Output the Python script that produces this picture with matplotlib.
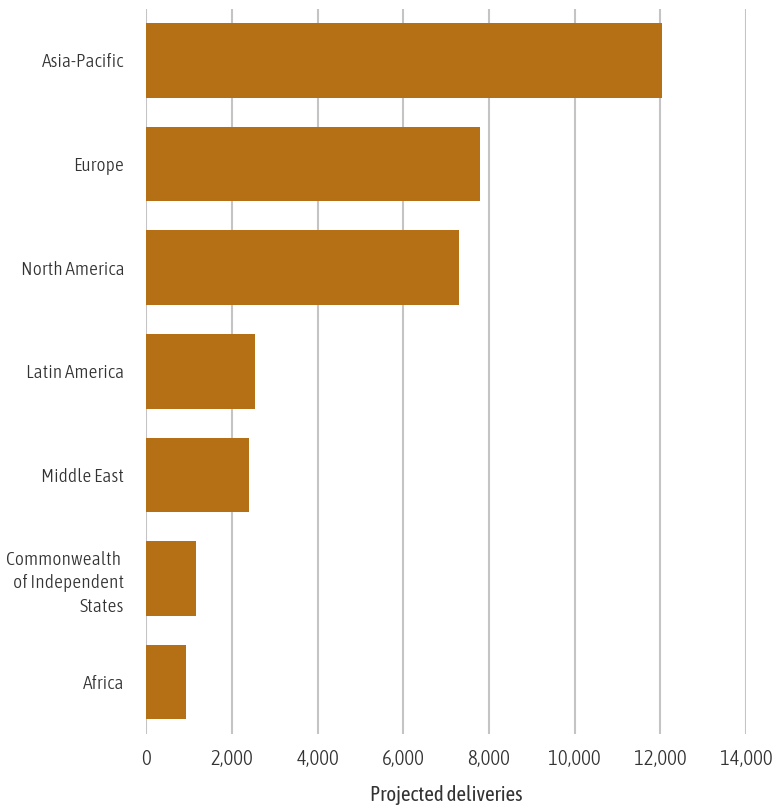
import matplotlib.pyplot as plt
from matplotlib import font_manager

regions = ['Asia-Pacific', 'Europe', 'North America', 'Latin America',
           'Middle East', 'Commonwealth \nof Independent\nStates', 'Africa']
deliveries = [12030, 7780, 7290, 2530, 2390, 1150, 920]
xticks = [0, 2000, 4000, 6000, 8000, 10000, 12000, 14000]

names = {f.name for f in font_manager.fontManager.ttflist}
fam = 'Asap Condensed' if 'Asap Condensed' in names else 'Lato'
plt.rcParams['font.family'] = [fam, 'DejaVu Sans']
plt.rcParams['font.weight'] = 300

fig = plt.figure(figsize=(7.77, 8.08), dpi=100)
ax = fig.add_axes([0.1885, 0.0916, 0.7715, 0.8978])

ypos = range(len(regions))
ax.barh(ypos, deliveries, height=0.72, color='#b56f14', zorder=2)
ax.set_ylim(6.5, -0.5)
ax.set_xlim(0, 14000)

ax.set_xticks(xticks)
ax.set_xticklabels([f'{v:,}' for v in xticks], fontsize=15)
ax.set_yticks(list(ypos))
ax.set_yticklabels(regions, ha='right', multialignment='right',
                   linespacing=1.4, fontsize=14)
ax.tick_params(axis='both', length=0, labelcolor='#333333')
ax.tick_params(axis='y', pad=16)
ax.tick_params(axis='x', pad=11)

ax.grid(axis='x', color='#c4c4c4', linewidth=1.5, zorder=0)
ax.set_axisbelow(True)
for s in ax.spines.values():
    s.set_visible(False)

ax.set_xlabel('Projected deliveries', fontsize=15, color='#333333', labelpad=11)

fig.savefig('out.png', dpi=100)
